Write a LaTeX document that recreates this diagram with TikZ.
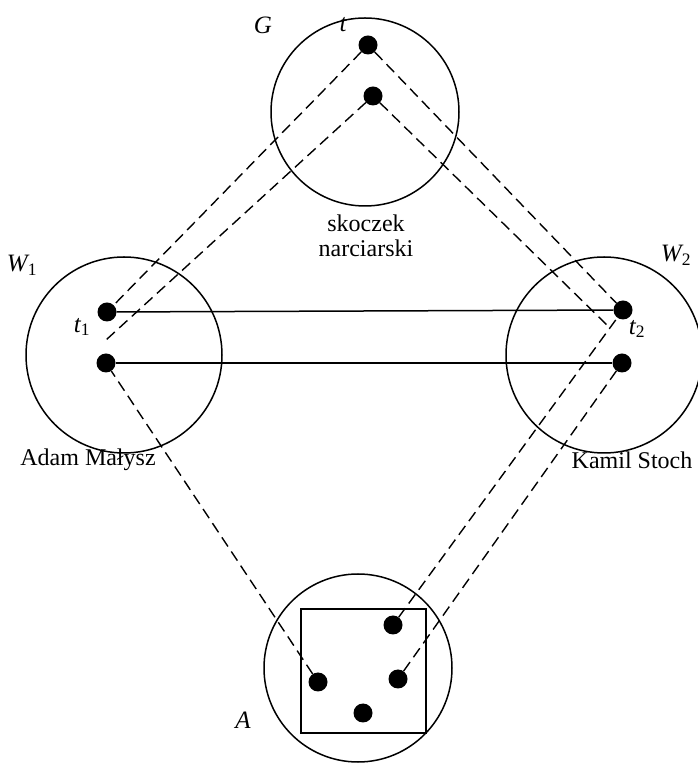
\documentclass[tikz,border=0pt]{standalone}
\usepackage{fontspec}
\setmainfont{Liberation Serif}
\begin{document}
\begin{tikzpicture}[x=1pt,y=1pt,
  big/.style={draw,circle,line width=1.5pt,inner sep=0pt},
  dot/.style={circle,fill=black,inner sep=0pt,minimum size=19pt},
  dline/.style={dash pattern=on 11pt off 6pt,line width=1.4pt},
  sline/.style={line width=1.5pt},
  lbl/.style={inner sep=0pt,font=\fontsize{24}{28}\selectfont},
  ilbl/.style={inner sep=0pt,font=\fontsize{25}{29}\selectfont\itshape}]
\useasboundingbox (0,0) rectangle (698,763);
% big circles
\node[big,minimum size=188pt] (G) at (365,651) {};
\node[big,minimum size=196pt] (W1) at (124,408) {};
\node[big,minimum size=196pt] (W2) at (604,408) {};
\node[big,minimum size=188pt] (A) at (358,95) {};
\node[draw,line width=1.6pt,inner sep=0pt,minimum width=125pt,minimum height=124pt] (sq) at (363.5,92) {};
% dots
\node[dot] (gt) at (368,718) {};
\node[dot] (gb) at (373,667) {};
\node[dot] (w1a) at (107,451) {};
\node[dot] (w1b) at (106,400) {};
\node[dot] (w2a) at (623,453) {};
\node[dot] (w2b) at (622,400) {};
\node[dot] (aL) at (318,81) {};
\node[dot] (aT) at (393,138) {};
\node[dot] (aR) at (398,84) {};
\node[dot] (aB) at (363,50) {};
\coordinate (e1) at (106,423);
\coordinate (e2) at (610,435);
% connectors
\draw[sline] (w1a) -- (w2a);
\draw[sline] (w1b) -- (w2b);
\draw[dline] (gt) -- (w1a);
\draw[dline] (gb) -- (e1);
\draw[dline] (gt) -- (w2a);
\draw[dline] (gb) -- (e2);
\draw[dline] (aL) -- (w1b);
\draw[dline] (aT) -- (w2a);
\draw[dline] (aR) -- (w2b);
% labels
\node[ilbl] (lG) at (263,738) {G};
\node[ilbl] (lt) at (343,738) {t};
\node[ilbl] (lW1) at (22,498) {W\textsubscript{\upshape 1}};
\node[ilbl] (lt1) at (82,436) {t\textsubscript{\upshape 1}};
\node[ilbl] (lW2) at (676,508) {W\textsubscript{\upshape 2}};
\node[ilbl] (lt2) at (637,434) {t\textsubscript{\upshape 2}};
\node[ilbl] (lA) at (243,43) {A};
\node[lbl] (ls) at (366,540) {skoczek};
\node[lbl] (ln) at (366,515) {narciarski};
\node[lbl] (lam) at (88,303) {Adam Małysz};
\node[lbl] (lks) at (632,303) {Kamil Stoch};
\end{tikzpicture}
\end{document}
